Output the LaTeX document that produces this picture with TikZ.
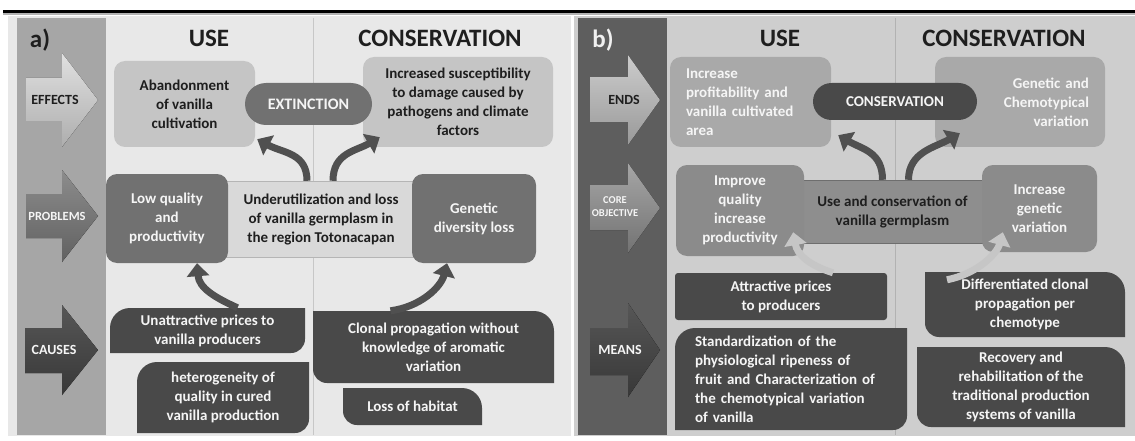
\documentclass[tikz,border=0pt]{standalone}
\usepackage{fontspec}
\setmainfont{Carlito}
\usetikzlibrary{arrows.meta}
\definecolor{bgA}{HTML}{E8E8E8}
\definecolor{stripA}{HTML}{A6A6A6}
\definecolor{bgB}{HTML}{CECECE}
\definecolor{stripB}{HTML}{5E5E5E}
\definecolor{lightbox}{HTML}{C5C5C5}
\definecolor{midbox}{HTML}{717171}
\definecolor{darkbox}{HTML}{494949}
\definecolor{bendsbox}{HTML}{A9A9A9}
\definecolor{bmidbox}{HTML}{8B8B8B}
\definecolor{probfill}{HTML}{D9D9D9}
\definecolor{probline}{HTML}{B5B5B5}
\definecolor{usefill}{HTML}{8E8E8E}
\definecolor{useline}{HTML}{6E6E6E}
\definecolor{txtdark}{HTML}{1E1E1E}
\definecolor{txtlight}{HTML}{F5F5F5}
\definecolor{arrowdark}{HTML}{505050}
\definecolor{arrowlight}{HTML}{C6C6C6}
\tikzset{
  rbox/.style={rounded corners=11pt, align=center},
  dTL/.style={align=center, path picture={
    \fill[#1] (path picture bounding box.south west)
      -- ([yshift=-20pt]path picture bounding box.north west)
      arc[start angle=180,end angle=90,radius=20pt]
      -- (path picture bounding box.north east)
      -- ([yshift=14pt]path picture bounding box.south east)
      arc[start angle=0,end angle=-90,radius=14pt] -- cycle;}},
  dTR/.style={align=center, path picture={
    \fill[#1] ([yshift=14pt]path picture bounding box.south west)
      -- (path picture bounding box.north west)
      -- ([xshift=-20pt]path picture bounding box.north east)
      arc[start angle=90,end angle=0,radius=20pt]
      -- (path picture bounding box.south east)
      -- ([xshift=14pt]path picture bounding box.south west)
      arc[start angle=270,end angle=180,radius=14pt] -- cycle;}},
  carrow/.style={draw=#1, line width=7pt, -{Triangle[length=13pt,width=22pt]}},
  heading/.style={font=\bfseries\fontsize{25}{28}\selectfont, text=txtdark},
}
\begin{document}
\begin{tikzpicture}[x=1pt,y=-1pt,
  every node/.style={font=\bfseries\fontsize{15}{19}\selectfont, inner sep=0pt}]
\useasboundingbox (0,0) rectangle (1135,441);
\fill[white] (0,0) rectangle (1135,441);
% top rule
\fill[black!30] (3,12.5) rectangle (1135,15);
\draw[line width=2.4pt] (3,11.5) -- (1135,11.5);
% panel a
\fill[bgA] (8,16) rectangle (571,436);
\fill[stripA] (17,18) rectangle (106,435);
\draw[black!22, line width=0.8pt] (313,18) -- (313,435);
% panel b
\fill[bgB] (574,16) rectangle (1135,436);
\fill[stripB] (578,18) rectangle (667,435);
\draw[black!30, line width=0.8pt] (895,18) -- (895,435);

% strip arrows a
\fill[top color=black!12, bottom color=black!32]
  (26,78) -- (62,78) -- (62,53) -- (98,100) -- (62,147) -- (62,121) -- (26,121) -- cycle;
\fill[top color=black!45, bottom color=black!62]
  (26,194) -- (62,194) -- (62,170) -- (98,216) -- (62,262) -- (62,238) -- (26,238) -- cycle;
\fill[top color=black!66, bottom color=black!78]
  (25,328) -- (62,328) -- (62,305) -- (98,350) -- (62,395) -- (62,373) -- (25,373) -- cycle;
% strip arrows b
\fill[top color=black!20, bottom color=black!40]
  (590,77) -- (628,77) -- (628,55) -- (660,100) -- (628,145) -- (628,122) -- (590,122) -- cycle;
\fill[top color=black!35, bottom color=black!55]
  (590,185) -- (628,185) -- (628,163) -- (660,208) -- (628,253) -- (628,230) -- (590,230) -- cycle;
\fill[top color=black!66, bottom color=black!78]
  (590,328) -- (628,328) -- (628,303) -- (660,350) -- (628,397) -- (628,375) -- (590,375) -- cycle;

% strip labels
\node[text=txtdark, font=\bfseries\fontsize{14}{16}\selectfont] (lEff) at (55,100) {EFFECTS};
\node[text=txtlight, font=\bfseries\fontsize{12.5}{14}\selectfont] (lProb) at (57,216) {PROBLEMS};
\node[text=txtlight, font=\bfseries\fontsize{14}{16}\selectfont] (lCaus) at (54,350) {CAUSES};
\node[text=txtdark, font=\bfseries\fontsize{14}{16}\selectfont] (lEnds) at (624,100) {ENDS};
\node[text=txtlight, align=center, font=\bfseries\fontsize{10.5}{13}\selectfont] (lCore) at (615,207) {CORE\\OBJECTIVE};
\node[text=txtlight, font=\bfseries\fontsize{14}{16}\selectfont] (lMeans) at (620,350) {MEANS};

% headings
\node[heading] (labA) at (40,40) {a)};
\node[heading] (useA) at (209,38) {USE};
\node[heading] (consA) at (440,38) {CONSERVATION};
\node[heading, text=black!6] (labB) at (603,40) {b)};
\node[heading] (useB) at (780,38) {USE};
\node[heading] (consB) at (1004,38) {CONSERVATION};

% ---- panel a boxes
\node[rbox, fill=lightbox, text=txtdark, minimum width=141pt, minimum height=86pt]
  (abandon) at (184.5,104) {Abandonment\\of vanilla\\cultivation};
\node[rbox, fill=lightbox, text=txtdark, minimum width=190pt, minimum height=90pt]
  (suscept) at (458,102) {Increased susceptibility\\to damage caused by\\pathogens and climate\\factors};
\node[fill=midbox, rounded corners=21pt, minimum width=127pt, minimum height=42pt, text=txtlight,
  font=\bfseries\fontsize{16}{19}\selectfont] (extinct) at (308.5,104) {EXTINCTION};

\node[fill=probfill, draw=probline, align=center, text=txtdark, minimum width=200pt, minimum height=76pt]
  (probA) at (321,219) {Underutilization and loss\\of vanilla germplasm in\\the region Totonacapan};
\node[rbox, fill=midbox, text=txtlight, minimum width=122pt, minimum height=89pt]
  (lowq) at (167,218.5) {Low quality\\and\\productivity};
\node[rbox, fill=midbox, text=txtlight, minimum width=124pt, minimum height=89pt]
  (genetic) at (474,218.5) {Genetic\\diversity loss};

\node[dTL=darkbox, text=txtlight, minimum width=195pt, minimum height=45pt]
  (unattr) at (207.5,330.5) {Unattractive prices to\\vanilla producers};
\node[dTL=darkbox, text=txtlight, minimum width=172pt, minimum height=71pt]
  (hetero) at (223,397.5) {heterogeneity of\\quality in cured\\vanilla production};
\node[dTR=darkbox, text=txtlight, minimum width=241pt, minimum height=72pt]
  (clonal) at (433.5,347) {Clonal propagation without\\knowledge of aromatic\\variation};
\node[dTR=darkbox, text=txtlight, minimum width=139pt, minimum height=37pt]
  (habitat) at (412.5,406.5) {Loss of habitat};

% ---- panel b boxes
\node[rbox, fill=bendsbox, text=txtlight, minimum width=161pt, minimum height=90pt, text width=129pt, align=left]
  (ends) at (750.5,102) {Increase\\profitability and\\vanilla cultivated\\area};
\node[rbox, fill=bendsbox, text=txtlight, minimum width=170pt, minimum height=90pt, text width=138pt, align=right]
  (genchem) at (1020,102) {Genetic and\\Chemotypical\\variation};
\node[fill=darkbox, rounded corners=18.5pt, minimum width=164pt, minimum height=37pt, text=txtlight]
  (conspill) at (895,101.5) {CONSERVATION};

\node[fill=usefill, draw=useline, align=center, text=txtdark, minimum width=195pt, minimum height=63pt]
  (usecons) at (892.5,211.5) {Use and conservation of\\vanilla germplasm};
\node[rbox, fill=bmidbox, text=txtlight, minimum width=128pt, minimum height=91pt]
  (improve) at (740,210.5) {Improve\\quality\\increase\\productivity};
\node[rbox, fill=bmidbox, text=txtlight, minimum width=115pt, minimum height=87pt]
  (incgen) at (1039.5,208.5) {Increase\\genetic\\variation};

\node[fill=darkbox, rounded corners=3pt, align=center, text=txtlight, minimum width=212pt, minimum height=47pt]
  (attract) at (781,296.5) {Attractive prices\\to producers};
\node[dTL=darkbox, text=txtlight, minimum width=232pt, minimum height=102pt, text width=192pt, align=left]
  (standard) at (791,379) {Standardization of the\\physiological ripeness of\\fruit and Characterization of\\the chemotypical variation\\of vanilla};
\node[dTR=darkbox, text=txtlight, minimum width=200pt, minimum height=65pt]
  (differ) at (1025,304.5) {Differentiated clonal\\propagation per\\chemotype};
\node[dTR=darkbox, text=txtlight, minimum width=208pt, minimum height=80pt]
  (recovery) at (1021,387) {Recovery and\\rehabilitation of the\\traditional production\\systems of vanilla};

% ---- curved arrows a
\draw[carrow=arrowdark] ([xshift=-14pt]probA.north) .. controls +(0,-28) and +(26,14) .. ([shift={(2pt,8pt)}]abandon.south east);
\draw[carrow=arrowdark] ([xshift=12pt]probA.north) .. controls +(0,-28) and +(-24,14) .. ([shift={(17pt,10pt)}]suscept.south west);
\draw[carrow=arrowdark] ([xshift=30pt]unattr.north) .. controls +(-22,-10) and +(2,25) .. ([xshift=30pt]lowq.south);
\draw[carrow=arrowdark] ([xshift=-43pt]clonal.north) .. controls +(30,-4) and +(-6,24) .. ([xshift=-27pt]genetic.south);
% ---- curved arrows b
\draw[carrow=arrowdark] ([xshift=-10pt]usecons.north) .. controls +(0,-28) and +(24,14) .. ([shift={(7pt,12pt)}]ends.south east);
\draw[carrow=arrowdark] ([xshift=16pt]usecons.north) .. controls +(0,-28) and +(-24,14) .. ([shift={(25pt,14pt)}]genchem.south west);
\draw[carrow=arrowlight] ([xshift=52pt]attract.north) .. controls +(-25,-8) and +(4,22) .. ([shift={(-11pt,24pt)}]improve.south east);
\draw[carrow=arrowlight] ([shift={(-78pt,-8pt)}]differ.north) .. controls +(30,-6) and +(-6,22) .. ([shift={(21pt,20pt)}]incgen.south west);
\end{tikzpicture}
\end{document}
